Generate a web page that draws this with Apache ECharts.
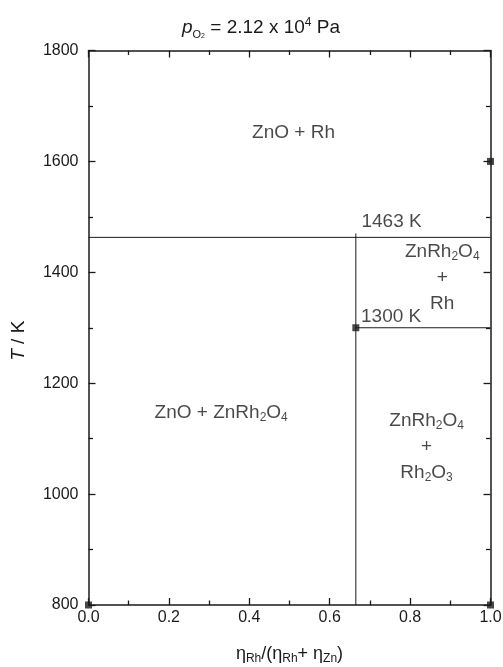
<!DOCTYPE html>
<html><head><meta charset="utf-8">
<script src="https://cdn.jsdelivr.net/npm/echarts@6/dist/echarts.min.js"></script>
<style>html,body{margin:0;padding:0;background:#fff}#c{width:503px;height:667px}</style>
</head><body><div id="c"></div>
<script>
// phase boundaries (x = η_Rh/(η_Rh+η_Zn), T / K)
var line1463 = [[0, 1463], [1, 1463]];
var lineVertical = [[0.665, 800], [0.665, 1470]];
var line1300 = [[0.665, 1300], [1, 1300]];
var markersOnFrame = [[0, 800], [1, 800]];
var markersFree = [[1, 1600], [0.665, 1300]];
var xTicks = [0, 0.2, 0.4, 0.6, 0.8, 1.0];
var yTicks = [800, 1000, 1200, 1400, 1600, 1800];
// annotation anchors in data coordinates with text
var annotations = [
  {x: 0.510, y: 1651, text: 'ZnO + Rh', align: 'center'},
  {x: 0.330, y: 1146, text: 'ZnO + ZnRh{s|2}O{s|4}', align: 'center'},
  {x: 0.679, y: 1492, text: '1463 K', align: 'left'},
  {x: 0.678, y: 1320, text: '1300 K', align: 'left'},
  {x: 0.880, y: 1391, text: 'ZnRh{s|2}O{s|4}\n+\nRh', align: 'center'},
  {x: 0.841, y: 1085, text: 'ZnRh{s|2}O{s|4}\n+\nRh{s|2}O{s|3}', align: 'center'}
];

var FONT = '"Liberation Sans", Arial, sans-serif';
var INK = '#1a1a1a';
var chart = echarts.init(document.getElementById('c'));
var axisLine = {onZero: false, lineStyle: {color: INK, width: 1.5}};
var tickIn = {show: true, inside: true, length: 7, lineStyle: {color: INK, width: 1.3}};
var minorIn = {show: true, splitNumber: 2, length: 4.5, lineStyle: {color: INK, width: 1.3}};
var rich = {
  s: {fontSize: 12, fontFamily: FONT, color: INK, padding: [10, 0, 0, 0]}
};
function lineSeries(d) {
  return {type: 'line', data: d, symbol: 'none', silent: true,
    lineStyle: {color: INK, width: 1}, z: 3};
}
chart.setOption({
  animation: false,
  textStyle: {fontFamily: FONT},
  title: {
    text: '{p|p}{s|O}{ss|2}{n| = 2.12 x 10}{sup|4}{n| Pa}',
    left: 256, top: 11, textAlign: 'center',
    textStyle: {
      fontWeight: 'normal',
      rich: {
        p: {fontSize: 19, fontStyle: 'italic', fontFamily: FONT, color: INK},
        s: {fontSize: 11, fontFamily: FONT, color: INK, padding: [13, 0, 0, 0]},
        ss: {fontSize: 7, fontFamily: FONT, color: INK, padding: [17, 0, 0, 0]},
        n: {fontSize: 19, fontFamily: FONT, color: INK},
        sup: {fontSize: 12, fontFamily: FONT, color: INK, padding: [0, 0, 11, 0]}
      }
    }
  },
  grid: {left: 88.5, right: 12.5, top: 50.5, bottom: 62, containLabel: false, outerBoundsMode: 'none'},
  xAxis: [{
    type: 'value', min: 0, max: 1, interval: 0.2,
    axisLine: axisLine, axisTick: tickIn, minorTick: minorIn, splitLine: {show: false},
    axisLabel: {fontSize: 16, color: INK, margin: 5, fontFamily: FONT,
      formatter: function (v) { return xTicks.indexOf(+v.toFixed(1)) >= 0 ? v.toFixed(1) : ''; }},
    name: '{e|η}{s|Rh}{e|/(η}{s|Rh}{e|+ η}{s|Zn}{e|)}', nameLocation: 'middle', nameGap: 38,
    nameTextStyle: {rich: {
      e: {fontSize: 18, fontFamily: FONT, color: INK},
      s: {fontSize: 12, fontFamily: FONT, color: INK, padding: [10, 0, 0, 0]}
    }}
  }, {
    type: 'value', min: 0, max: 1, interval: 0.2, position: 'top',
    axisLine: axisLine, axisTick: tickIn, minorTick: minorIn, splitLine: {show: false},
    axisLabel: {show: false}
  }],
  yAxis: [{
    type: 'value', min: 800, max: 1800, interval: 200,
    axisLine: axisLine, axisTick: tickIn, minorTick: minorIn, splitLine: {show: false},
    axisLabel: {fontSize: 16, color: INK, margin: 10, fontFamily: FONT,
      formatter: function (v) { return yTicks.indexOf(v) >= 0 ? String(v) : ''; }},
    name: '{i|T}{n| / K}', nameLocation: 'middle', nameGap: 60, nameRotate: 90,
    nameTextStyle: {padding: [0, 26, 0, 0], rich: {
      i: {fontSize: 19, fontStyle: 'italic', fontFamily: FONT, color: INK},
      n: {fontSize: 19, fontFamily: FONT, color: INK}
    }}
  }, {
    type: 'value', min: 800, max: 1800, interval: 200, position: 'right',
    axisLine: axisLine, axisTick: tickIn, minorTick: minorIn, splitLine: {show: false},
    axisLabel: {show: false}
  }],
  series: [
    lineSeries(line1463),
    lineSeries(lineVertical),
    lineSeries(line1300),
    {type: 'scatter', data: markersOnFrame, symbol: 'rect', symbolSize: 7, clip: true,
      itemStyle: {color: INK}, silent: true, z: 4},
    {type: 'scatter', data: markersFree, symbol: 'rect', symbolSize: 7, clip: false,
      itemStyle: {color: INK}, silent: true, z: 4},
    {type: 'scatter', symbolSize: 0, silent: true, z: 5,
      data: annotations.map(function (a) {
        return {value: [a.x, a.y], label: {show: true, position: 'inside', formatter: a.text,
          align: a.align, verticalAlign: 'middle', lineHeight: 26,
          fontSize: 19, color: INK, fontFamily: FONT, rich: rich}};
      })}
  ]
});
</script></body></html>
